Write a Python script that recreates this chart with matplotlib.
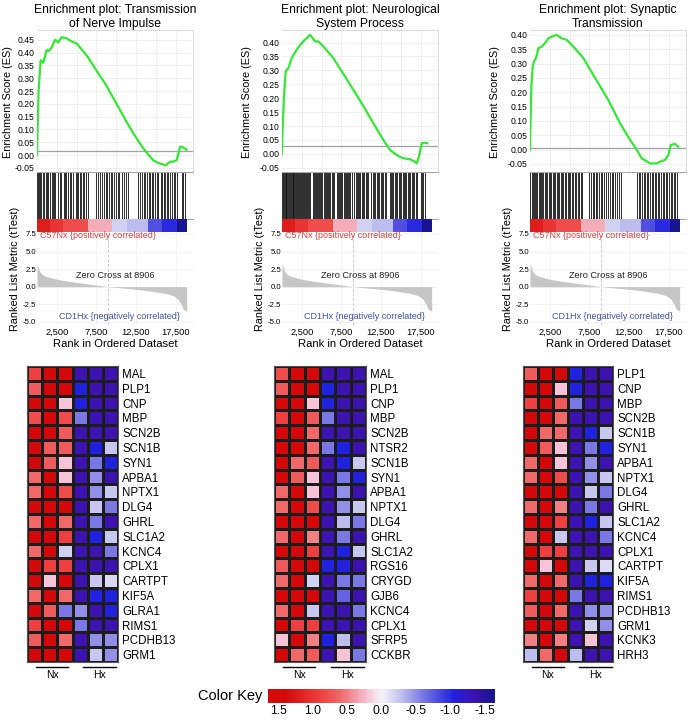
import matplotlib
matplotlib.use("Agg")
import matplotlib.pyplot as plt
import numpy as np
from matplotlib.colors import LinearSegmentedColormap, Normalize
from matplotlib.cm import ScalarMappable
from matplotlib.ticker import FormatStrFormatter, FixedLocator

plt.rcParams['font.family'] = ['Liberation Sans', 'DejaVu Sans']
plt.rcParams['axes.unicode_minus'] = False

# ==========================
# GSEA panels
# ==========================
titles = ["Enrichment plot: Transmission\nof Nerve Impulse",
          "Enrichment plot: Neurological\nSystem Process",
          "Enrichment plot: Synaptic\nTransmission"]

es1_rank = [0, 40, 200, 460, 800, 1220, 1500, 1850, 2270, 2700, 3110, 3750, 4300, 5010, 5700,
            6480, 7500, 8590, 9500, 10480, 11300, 12170, 12800, 13430, 14100, 14690, 15100,
            15530, 16250, 16800, 17300, 17640, 18060, 18480, 18900]
es1_val = [0.0, 0.06, 0.25, 0.37, 0.36, 0.41, 0.405, 0.42, 0.45, 0.44, 0.46, 0.455, 0.445, 0.435,
           0.41, 0.38, 0.33, 0.28, 0.23, 0.176, 0.13, 0.085, 0.055, 0.026, 0.0, -0.02, -0.028,
           -0.033, -0.04, -0.026, -0.025, -0.02, 0.033, 0.03, 0.02]

es2_rank = [0, 40, 250, 460, 800, 1220, 1850, 2480, 3120, 3540, 4170, 4590, 5220, 6480, 7960,
            10060, 11540, 12800, 13640, 14480, 15320, 16170, 16800, 17010, 17300, 17640, 18060, 18360]
es2_val = [0.0, 0.062, 0.206, 0.296, 0.308, 0.344, 0.374, 0.398, 0.416, 0.428, 0.404, 0.404,
           0.386, 0.344, 0.278, 0.182, 0.11, 0.05, 0.014, -0.004, -0.016, -0.019, -0.028, -0.034,
           -0.01, 0.038, 0.04, 0.038]

es3_rank = [0, 80, 170, 340, 500, 760, 1050, 1470, 1890, 2320, 2740, 3370, 4000, 4630, 5680,
            6740, 8000, 9890, 11370, 12630, 13470, 14100, 15160, 16000, 16420, 17050, 17470,
            17770, 18310, 18730]
es3_val = [0.0, 0.115, 0.22, 0.29, 0.307, 0.319, 0.353, 0.359, 0.371, 0.388, 0.394, 0.40, 0.388,
           0.383, 0.353, 0.319, 0.26, 0.173, 0.092, 0.034, 0.0, -0.03, -0.048, -0.048, -0.042,
           -0.036, -0.019, 0.016, 0.02, 0.01]

es_ranks = [es1_rank, es2_rank, es3_rank]
es_vals = [es1_val, es2_val, es3_val]
es_ylims = [(-0.066, 0.488), (-0.065, 0.445), (-0.078, 0.417)]
es_tops = [0.45, 0.40, 0.40]
es_line = [0.015, 0.03, 0.006]

hits1 = [30, 150, 260, 420, 560, 700, 930, 1080, 1200, 1450, 1600, 1870, 2050, 2180, 2300, 2620,
         2900, 3050, 3380, 3560, 3700, 3950, 4210, 4330, 4600, 4870, 5000, 5150, 5400, 5520, 5800,
         5960, 6200, 6450, 7450, 7700, 7950, 8150, 8420, 8700, 8850, 9100, 9350, 9480, 9700, 9990,
         10250, 10400, 10700, 10950, 11300, 11500, 12750, 13050, 13200, 13500, 13650, 13900, 14150,
         14300, 14550, 14700, 14900, 15150, 15300, 15600, 15750, 16000, 16150, 16400, 16600, 16850,
         17100, 17300, 17450, 17650, 18300, 18500, 18750]
hits2 = [20, 120, 230, 330, 450, 560, 640, 760, 880, 990, 1100, 1200, 1330, 1450, 1560, 1680,
         1800, 1900, 2030, 2150, 2280, 2400, 2520, 2650, 2770, 2900, 3020, 3150, 3280, 3420, 3560,
         3900, 4020, 4150, 4280, 4420, 4560, 4700, 4850, 4980, 5100, 5250, 5400, 5520, 5680, 5830,
         5980, 6120, 6280, 6420, 6550, 6900, 7050, 7180, 7330, 7480, 7620, 7780, 7900, 8050, 8200,
         8350, 8500, 8650, 8800, 9150, 9300, 9450, 9600, 9750, 9900, 10080, 10250, 10400, 10560,
         10720, 10880, 11300, 11450, 11620, 11780, 11950, 12120, 12280, 12450, 12620, 12780, 12950,
         13100, 13600, 13750, 13900, 14050, 14220, 14380, 14550, 14720, 14900, 15050, 15220, 15380,
         15550, 15700, 15870, 16040, 16200, 16380, 16550, 16720, 16900, 17050, 17500, 17650, 17820,
         18000]
hits3 = [60, 200, 330, 500, 640, 800, 930, 1100, 1250, 1420, 1560, 1700, 1880, 2050, 2200, 2380,
         2530, 2700, 2860, 3010, 3200, 3380, 3550, 3720, 3900, 4050, 4230, 4400, 4580, 4750, 4900,
         5100, 5280, 5450, 5650, 5820, 6000, 6200, 6400, 6600, 7500, 7700, 7900, 8100, 8300, 8500,
         8700, 8950, 9150, 9400, 9600, 9850, 10050, 10300, 10500, 10750, 11000, 11250, 11450, 13550,
         13750, 13950, 14150, 14350, 14550, 14750, 14950, 15150, 15350, 15550, 15750, 15950, 16150,
         16350, 16550, 16750, 16950, 17150, 17350, 17550, 17750, 17950, 18150, 18350, 18550]
hits = [hits1, hits2, hits3]

strip_edges = [0, 1640, 3330, 6480, 9430, 11320, 14060, 15750, 17640, 18900]
strip_vals = [1.2, 1.0, 0.8, 0.3, -0.2, -0.3, -0.8, -1.0, -1.6]

rm_rank = [0, 100, 200, 400, 630, 1000, 1700, 2700, 3800, 5000, 5900, 7000, 8000, 8906, 10000,
           11600, 13000, 14000, 15000, 16000, 16700, 17300, 17800, 18200, 18450, 18700, 18900]
rm_val = [3.4, 2.9, 2.5, 2.1, 1.75, 1.5, 1.28, 1.0, 0.8, 0.6, 0.47, 0.3, 0.15, 0.0, -0.12, -0.28,
          -0.45, -0.58, -0.75, -0.92, -1.1, -1.35, -1.8, -2.5, -3.2, -3.4, -3.5]
zero_cross = 8906
rank_ticks = [2500, 7500, 12500, 17500]
rank_labels = ["2,500", "7,500", "12,500", "17,500"]
rm_ticks = [7.5, 5.0, 2.5, 0.0, -2.5, -5.0]

# ==========================
# Heatmaps
# ==========================
genes1 = ["MAL", "PLP1", "CNP", "MBP", "SCN2B", "SCN1B", "SYN1", "APBA1", "NPTX1", "DLG4", "GHRL",
          "SLC1A2", "KCNC4", "CPLX1", "CARTPT", "KIF5A", "GLRA1", "RIMS1", "PCDHB13", "GRM1"]
hm1 = [[0.9, 1.4, 1.4, -1.35, -1.35, -1.35],
       [0.7, 1.4, 1.4, -1.05, -1.35, -1.35],
       [1.4, 1.4, 0.2, -1.05, -1.35, -1.35],
       [0.8, 1.4, 0.8, -0.6, -1.35, -1.35],
       [1.4, 1.4, 0.7, -1.35, -1.35, -1.35],
       [1.4, 0.7, 0.7, -1.35, -1.05, -0.25],
       [1.4, 0.7, 0.2, -1.35, -0.6, -1.05],
       [0.6, 1.4, 0.2, -1.35, -0.5, -1.35],
       [0.6, 1.4, 0.8, -1.35, -0.5, -0.25],
       [1.4, 1.4, 1.4, -1.35, -0.25, -0.6],
       [0.6, 1.4, 0.6, -1.35, -0.6, -1.35],
       [1.4, 1.4, 0.9, -1.35, -1.05, -0.25],
       [0.6, 1.4, -0.2, -1.35, -1.35, -0.6],
       [1.4, 0.9, 0.9, -1.35, -1.35, -1.35],
       [1.4, 0.2, 1.4, -1.35, -0.25, -0.15],
       [0.6, 1.4, 0.6, -1.35, -1.05, -1.05],
       [1.4, 0.7, -0.6, -0.5, -1.35, -1.05],
       [0.9, 1.4, 1.4, -0.6, -1.35, -1.35],
       [0.7, 1.4, 0.6, -1.35, -0.5, -0.5],
       [1.4, 1.4, 1.4, -1.35, -0.25, -0.5]]

genes2 = ["MAL", "PLP1", "CNP", "MBP", "SCN2B", "NTSR2", "SCN1B", "SYN1", "APBA1", "NPTX1", "DLG4",
          "GHRL", "SLC1A2", "RGS16", "CRYGD", "GJB6", "KCNC4", "CPLX1", "SFRP5", "CCKBR"]
hm2 = [[0.8, 1.4, 1.4, -1.35, -1.35, -1.35],
       [0.7, 1.4, 1.4, -1.05, -1.35, -1.35],
       [1.4, 1.4, 0.2, -1.05, -1.35, -1.35],
       [0.9, 1.4, 0.7, -0.6, -1.35, -1.35],
       [1.4, 1.4, 0.6, -1.35, -1.35, -1.35],
       [1.4, 1.4, 0.6, -0.6, -1.05, -1.35],
       [1.4, 0.6, 0.7, -1.35, -1.05, -0.25],
       [1.4, 0.7, 0.2, -1.35, -0.6, -1.05],
       [0.6, 1.4, 0.2, -1.35, -0.5, -1.35],
       [0.6, 1.4, 0.8, -1.35, -0.5, -0.25],
       [1.4, 1.4, 1.4, -1.35, -0.3, -0.6],
       [0.6, 1.4, 0.5, -1.35, -0.6, -1.35],
       [1.4, 1.4, 0.9, -1.35, -1.05, -0.25],
       [0.7, 1.4, 1.4, -1.05, -1.05, -1.35],
       [0.6, 1.4, -0.2, -1.35, -0.6, -0.6],
       [1.4, 1.4, 1.4, -1.35, -0.7, -1.35],
       [0.6, 1.4, -0.25, -1.35, -1.35, -0.6],
       [1.4, 0.9, 0.9, -1.35, -1.35, -1.35],
       [0.2, 1.4, 0.5, -1.05, -0.3, -1.35],
       [1.4, 0.6, 0.7, -1.35, 0.2, -0.6]]

genes3 = ["PLP1", "CNP", "MBP", "SCN2B", "SCN1B", "SYN1", "APBA1", "NPTX1", "DLG4", "GHRL", "SLC1A2",
          "KCNC4", "CPLX1", "CARTPT", "KIF5A", "RIMS1", "PCDHB13", "GRM1", "KCNK3", "HRH3"]
hm3 = [[0.7, 1.4, 1.4, -1.05, -1.35, -1.35],
       [1.4, 1.4, 0.2, -1.05, -1.35, -1.35],
       [0.9, 1.4, 0.7, -0.6, -1.35, -1.35],
       [1.4, 1.4, 0.6, -1.35, -1.35, -1.35],
       [1.4, 0.6, 0.6, -1.35, -1.05, -0.25],
       [1.4, 0.7, 0.2, -1.35, -0.6, -1.05],
       [0.6, 1.4, 0.2, -1.35, -0.5, -1.35],
       [0.6, 1.4, 0.8, -1.35, -0.5, -0.25],
       [1.4, 1.4, 1.4, -1.35, -0.25, -0.6],
       [0.6, 1.4, 0.5, -1.35, -0.6, -1.35],
       [1.4, 1.4, 0.9, -1.35, -1.05, -0.25],
       [0.6, 1.4, -0.25, -1.35, -1.35, -0.6],
       [1.4, 0.9, 0.9, -1.35, -1.35, -1.35],
       [1.4, 0.2, 1.4, -1.35, -0.25, -0.15],
       [0.6, 1.4, 0.6, -1.35, -1.05, -1.05],
       [0.9, 1.4, 1.4, -0.6, -1.35, -1.35],
       [0.7, 1.4, 0.6, -1.35, -0.5, -0.5],
       [1.4, 1.4, 1.4, -1.35, -0.2, -0.5],
       [0.5, 1.4, 0.5, -1.35, 0.2, -1.35],
       [-0.3, 0.6, 1.4, -0.3, -1.35, -1.35]]

genes = [genes1, genes2, genes3]
hms = [hm1, hm2, hm3]
key_ticks = [1.5, 1.0, 0.5, 0.0, -0.5, -1.0, -1.5]

# ==========================
# colour map
# ==========================
vmax = 1.65
cm_pos = [-1.65, -1.35, -1.05, -0.6, -0.25, 0.0, 0.2, 0.6, 0.9, 1.4, 1.65]
cm_col = ['#14148c', '#3c12b0', '#2020e0', '#7a78e4', '#c8c8f0', '#f6f4f6',
          '#f6c4d6', '#f06868', '#ee4040', '#d40808', '#d80c0c']
cmap = LinearSegmentedColormap.from_list(
    'key', [((p + vmax) / (2 * vmax), c) for p, c in zip(cm_pos, cm_col)])
norm = Normalize(-vmax, vmax)

W, H = 689.0, 722.0


def box(x0, y0, x1, y1):
    return [x0 / W, 1 - y1 / H, (x1 - x0) / W, (y1 - y0) / H]


fig = plt.figure(figsize=(6.89, 7.22), dpi=100)

XMAX = 19700
lefts = [37, 282, 530]
es_lab_x = [-0.155, -0.19, -0.19]
for i, x0 in enumerate(lefts):
    x1 = x0 + 156
    # --- ES curve
    ax = fig.add_axes(box(x0, 30, x1, 172))
    ax.plot(es_ranks[i], es_vals[i], color='#33e833', lw=1.6, zorder=3)
    ax.axhline(es_line[i], color='#a0a0a0', lw=0.9, zorder=2)
    ax.set_xlim(0, XMAX)
    ax.set_ylim(*es_ylims[i])
    ax.set_xticks(np.arange(2500, XMAX, 2500))
    ax.set_yticks(np.round(np.arange(-0.05, es_tops[i] + 0.001, 0.05), 2))
    ax.yaxis.set_major_formatter(FormatStrFormatter('%.2f'))
    ax.tick_params(labelbottom=False, length=0, labelsize=6.2, pad=2)
    ax.grid(color='#ececec', lw=0.6)
    for s in ax.spines.values():
        s.set_color('#d4d4d4')
        s.set_linewidth(0.6)
    ax.spines['left'].set_visible(False)
    ax.set_ylabel("Enrichment Score (ES)", fontsize=7.8)
    ax.yaxis.set_label_coords(es_lab_x[i], 0.49)
    ax.set_title(titles[i], fontsize=8.7, linespacing=1.2, pad=2.5)

    # --- hit barcode
    bc = fig.add_axes(box(x0, 172, x1, 219))
    bc.vlines(hits[i], 0, 1, color='#111111', lw=0.62)
    bc.set_xlim(0, XMAX)
    bc.set_ylim(0, 1)
    bc.set_xticks([])
    bc.set_yticks([])
    for k in ['left', 'right']:
        bc.spines[k].set_visible(False)
    for k in ['top', 'bottom']:
        bc.spines[k].set_color('#a8a8a8')
        bc.spines[k].set_linewidth(0.8)

    # --- ranked metric colour strip
    st = fig.add_axes(box(x0, 219, x1, 232))
    st.pcolormesh(strip_edges, [0, 1], [strip_vals], cmap=cmap, norm=norm)
    st.set_xlim(0, XMAX)
    st.set_ylim(0, 1)
    st.axis('off')

    # --- ranked list metric
    rk = fig.add_axes(box(x0, 232, x1, 325))
    rk.fill_between(rm_rank, rm_val, 0, color='#c6c6c6', lw=0)
    rk.axvline(zero_cross, color='#c8c8c8', lw=0.7, ls=(0, (3, 2)))
    rk.set_xlim(0, XMAX)
    rk.set_ylim(-5.47, 7.785)
    rk.yaxis.set_major_locator(FixedLocator(rm_ticks))
    rk.yaxis.set_major_formatter(FormatStrFormatter('%.1f'))
    rk.set_xticks(rank_ticks)
    rk.set_xticklabels(rank_labels)
    rk.tick_params(axis='y', length=0, labelsize=5.6, pad=0.8)
    rk.tick_params(axis='x', length=0, labelsize=6.7, pad=2)
    rk.grid(color='#f0f0f0', lw=0.6)
    rk.set_axisbelow(True)
    for s in rk.spines.values():
        s.set_visible(False)
    rk.text(380, 7.3, "C57Nx {positively correlated}", color='#e04040', fontsize=6.5, va='center')
    rk.text(9850, 1.6, "Zero Cross at " + str(zero_cross), color='#222222', fontsize=6.6,
            ha='center', va='center')
    rk.text(18060, -4.3, "CD1Hx {negatively correlated}", color='#4050b0', fontsize=6.5,
            ha='right', va='center')
    rk.set_ylabel("Ranked List Metric (tTest)", fontsize=7.8)
    rk.yaxis.set_label_coords(-0.108, 0.6)
    rk.set_xlabel("Rank in Ordered Dataset", fontsize=8.1, labelpad=1.5)

# ==========================
# heatmaps
# ==========================
hm_x = [(27, 118), (274, 366), (523, 613)]
for i, (x0, x1) in enumerate(hm_x):
    ax = fig.add_axes(box(x0, 366, x1, 662))
    ax.pcolormesh(np.array(hms[i]), cmap=cmap, norm=norm, edgecolors='#1c1c1c', linewidth=0.9)
    ax.set_xlim(0, 6)
    ax.set_ylim(20, 0)
    ax.set_xticks([])
    ax.set_yticks(np.arange(20) + 0.5)
    ax.set_yticklabels(genes[i], fontsize=8.3)
    ax.yaxis.tick_right()
    ax.tick_params(length=0, pad=3)
    for s in ax.spines.values():
        s.set_color('#555555')
        s.set_linewidth(0.8)
    ax.plot([0.6, 2.7], [20.35, 20.35], color='black', lw=1.0, clip_on=False)
    ax.plot([3.7, 5.9], [20.35, 20.35], color='black', lw=1.0, clip_on=False)
    ax.text(1.65, 20.85, "Nx", fontsize=7.5, ha='center', va='center')
    ax.text(4.8, 20.85, "Hx", fontsize=7.5, ha='center', va='center')

# ==========================
# colour key
# ==========================
cax = fig.add_axes(box(268, 689, 495, 703))
cb = fig.colorbar(ScalarMappable(norm=norm, cmap=cmap), cax=cax, orientation='horizontal',
                  ticks=key_ticks)
cb.outline.set_visible(False)
cax.invert_xaxis()
cax.xaxis.set_major_formatter(FormatStrFormatter('%.1f'))
cax.tick_params(length=0, labelsize=8.8, pad=1.5)
fig.text(262 / W, 1 - 696 / H, "Color Key", fontsize=10.5, ha='right', va='center')

fig.savefig("out.png", dpi=100)
